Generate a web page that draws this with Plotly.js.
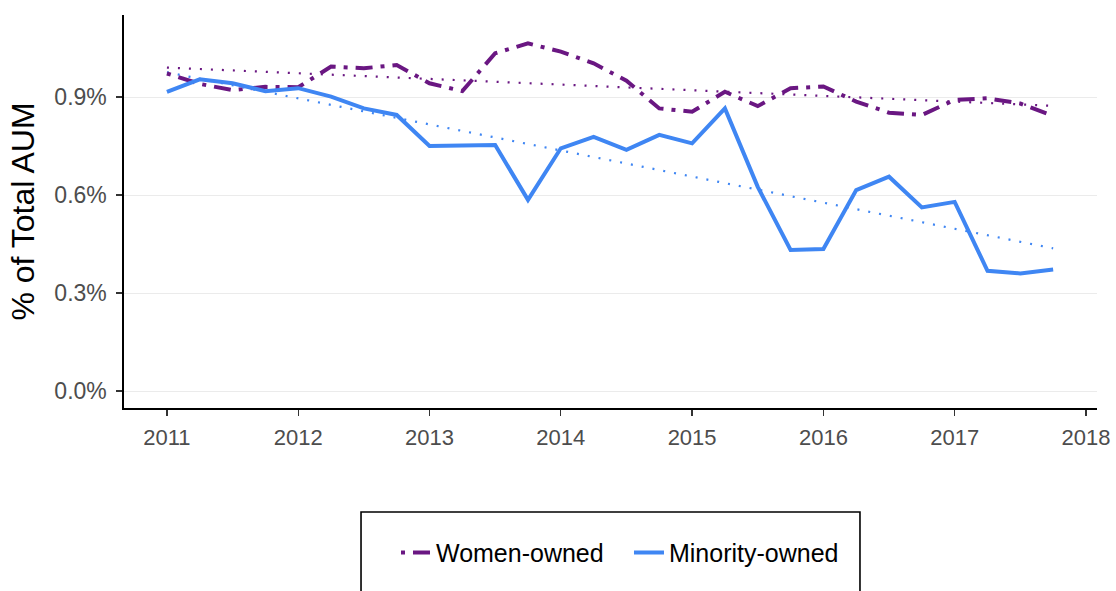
<!DOCTYPE html>
<html>
<head>
<meta charset="utf-8">
<script src="https://cdn.plot.ly/plotly-3.0.1.min.js"></script>
<style>html,body{margin:0;padding:0;background:#fff;}#chart{width:1116px;height:591px;}</style>
</head>
<body>
<div id="chart"></div>
<script>
// Quarterly dates (year fractions)
const quarters = [2011.0,2011.25,2011.5,2011.75,2012.0,2012.25,2012.5,2012.75,2013.0,2013.25,2013.5,2013.75,2014.0,2014.25,2014.5,2014.75,2015.0,2015.25,2015.5,2015.75,2016.0,2016.25,2016.5,2016.75,2017.0,2017.25,2017.5,2017.75];
// % of total AUM
const womenOwned = [0.972,0.940,0.921,0.931,0.930,0.993,0.988,0.998,0.942,0.918,1.034,1.064,1.039,1.003,0.950,0.865,0.855,0.916,0.872,0.927,0.932,0.886,0.852,0.845,0.891,0.896,0.880,0.842];
const minorityOwned = [0.916,0.954,0.942,0.918,0.927,0.901,0.865,0.845,0.750,0.750,0.753,0.585,0.743,0.778,0.738,0.784,0.758,0.865,0.625,0.432,0.435,0.615,0.656,0.562,0.579,0.368,0.360,0.372];
const seriesNames = ["Women-owned","Minority-owned"];
const yTicks = [0.0,0.3,0.6,0.9];
const xTicks = [2011,2012,2013,2014,2015,2016,2017,2018];

function linFit(x, y) {
  const n = x.length;
  const mx = x.reduce((a,b)=>a+b,0)/n, my = y.reduce((a,b)=>a+b,0)/n;
  let sxy=0, sxx=0;
  for (let i=0;i<n;i++){sxy+=(x[i]-mx)*(y[i]-my); sxx+=(x[i]-mx)**2;}
  const b = sxy/sxx, a = my-b*mx;
  return x.map(v=>a+b*v);
}

const purple = "#6a1782";
const blue = "#3f86f3";

const traces = [
  {x: quarters, y: linFit(quarters, womenOwned), mode:"lines", showlegend:false, hoverinfo:"skip",
   line:{color:purple, width:2.2, dash:"2px,9px"}},
  {x: quarters, y: linFit(quarters, minorityOwned), mode:"lines", showlegend:false, hoverinfo:"skip",
   line:{color:blue, width:2.2, dash:"2px,9px"}},
  {x: quarters, y: womenOwned, mode:"lines", name: seriesNames[0],
   line:{color:purple, width:4, dash:"4px,8px,17px,8px"}},
  {x: quarters, y: minorityOwned, mode:"lines", name: seriesNames[1],
   line:{color:blue, width:4}}
];

const layout = {
  width:1116, height:591,
  paper_bgcolor:"#fff", plot_bgcolor:"#fff",
  margin:{l:124, r:19, t:15, b:183},
  font:{family:"Liberation Sans, Arial, sans-serif", color:"#000"},
  xaxis:{
    range:[2010.673, 2018.084], tickvals:xTicks, ticktext:xTicks.map(String),
    showgrid:false, zeroline:false, showline:true, linecolor:"#000", linewidth:1.6,
    ticks:"outside", ticklen:6, tickwidth:1.3, tickcolor:"#333",
    tickfont:{size:22, color:"#4d4d4d"}, ticklabelstandoff:3
  },
  yaxis:{
    range:[-0.052, 1.151], tickvals:yTicks, ticktext:yTicks.map(v=>v.toFixed(1)+"%"),
    showgrid:true, gridcolor:"#ebebeb", gridwidth:1, zeroline:false,
    showline:true, linecolor:"#000", linewidth:1.6,
    ticks:"outside", ticklen:6, tickwidth:1.3, tickcolor:"#333",
    tickfont:{size:23, color:"#4d4d4d"}, ticklabelstandoff:5,
    title:{text:"% of Total AUM", font:{size:32, color:"#000"}, standoff:10}
  },
  showlegend:true,
  legend:{orientation:"h", x:0.519, xanchor:"center", y:-0.31, yanchor:"top",
    font:{size:25, color:"#000"}, bgcolor:"rgba(0,0,0,0)", borderwidth:0,
    traceorder:"normal", entrywidth:188, entrywidthmode:"pixels"},
  shapes:[{type:"rect", xref:"paper", yref:"paper", x0:0.2436, x1:0.7564, y0:-0.2646, y1:-0.50,
    line:{color:"#000", width:1.6}, fillcolor:"rgba(0,0,0,0)", layer:"below"}]
};

Plotly.newPlot("chart", traces, layout, {displayModeBar:false, staticPlot:true});
</script>
</body>
</html>
